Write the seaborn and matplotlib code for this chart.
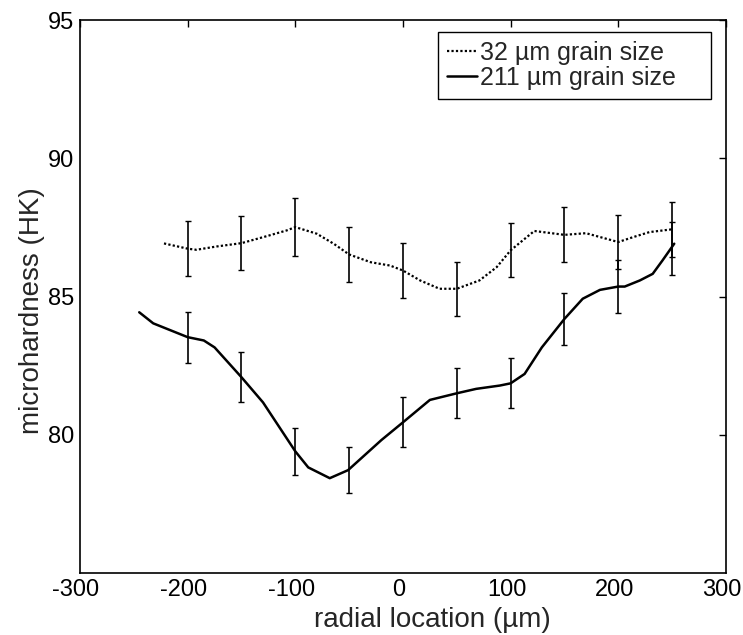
import numpy as np
import pandas as pd
import seaborn as sns
import matplotlib.pyplot as plt
from matplotlib.transforms import ScaledTranslation

# 32 um grain size (dotted trace)
x_32 = [-222, -200, -192, -173, -150, -125, -108, -100, -80, -64, -50, -30, -12, 0,
        16, 34, 50, 71, 87, 100, 122, 150, 170, 200, 214, 229, 250]
y_32 = [86.92, 86.73, 86.69, 86.81, 86.93, 87.20, 87.39, 87.51, 87.27, 86.90, 86.52, 86.24, 86.12, 85.94,
        85.58, 85.28, 85.28, 85.58, 86.06, 86.67, 87.37, 87.23, 87.29, 86.97, 87.15, 87.33, 87.43]

# 211 um grain size (solid trace)
x_211 = [-245, -232, -200, -185, -175, -150, -130, -100, -88, -68, -51, -20, 0, 25, 50,
         68, 90, 100, 113, 129, 150, 167, 183, 200, 206, 220, 232, 241, 252]
y_211 = [84.43, 84.03, 83.53, 83.41, 83.16, 82.08, 81.17, 79.40, 78.82, 78.43, 78.72, 79.81, 80.45, 81.26, 81.50,
         81.66, 81.78, 81.86, 82.20, 83.16, 84.19, 84.92, 85.24, 85.36, 85.36, 85.58, 85.82, 86.30, 86.91]

# error bars
x_err = [-200, -150, -100, -50, 0, 50, 100, 150, 200, 250]
mean_32 = [86.73, 86.93, 87.51, 86.52, 85.94, 85.28, 86.67, 87.23, 86.97, 87.42]
err_32 = [1.00, 0.97, 1.04, 1.00, 0.98, 0.97, 0.98, 0.99, 0.98, 1.00]
mean_211 = [83.53, 82.08, 79.40, 78.72, 80.45, 81.50, 81.86, 84.19, 85.36, 86.73]
err_211 = [0.92, 0.90, 0.85, 0.84, 0.90, 0.90, 0.90, 0.93, 0.95, 0.96]

sns.set_style("white")
plt.rcParams['font.family'] = ['Liberation Sans', 'DejaVu Sans']
plt.rcParams['axes.unicode_minus'] = False

fig = plt.figure(figsize=(7.43, 6.35), dpi=100)
ax = fig.add_axes([0.1077, 0.0976, 0.8693, 0.8709])

df32 = pd.DataFrame({'x': x_32, 'y': y_32})
df211 = pd.DataFrame({'x': x_211, 'y': y_211})

sns.lineplot(data=df32, x='x', y='y', sort=False, ax=ax, color='black',
             linestyle=(0, (1, 1)), linewidth=1.6, label='32 µm grain size')
sns.lineplot(data=df211, x='x', y='y', sort=False, ax=ax, color='black',
             linewidth=1.8, label='211 µm grain size')

ax.errorbar(x_err, mean_32, yerr=err_32, fmt='none', ecolor='black',
            elinewidth=1.2, capsize=2.2, capthick=1.0)
ax.errorbar(x_err, mean_211, yerr=err_211, fmt='none', ecolor='black',
            elinewidth=1.2, capsize=2.2, capthick=1.0)

ax.set_xlim(-300, 300)
ax.set_ylim(75, 95)
ax.set_xticks([-300, -200, -100, 0, 100, 200, 300])
ax.set_yticks([80, 85, 90, 95])
ax.tick_params(direction='in', length=5, width=1, top=True, right=True,
               labelsize=17, colors='black', pad=4)
# matlab-style labels sit a bit left of their ticks
shift = ScaledTranslation(-4 / 100, 0, fig.dpi_scale_trans)
for lab in ax.get_xticklabels():
    lab.set_transform(lab.get_transform() + shift)

for s in ax.spines.values():
    s.set_color('black')
    s.set_linewidth(1.2)

ax.set_xlabel('radial location (µm)', fontsize=20)
ax.set_ylabel('microhardness (HK)', fontsize=20)
ax.xaxis.set_label_coords(0.545, -0.062)
ax.yaxis.set_label_coords(-0.054, 0.474)

leg = ax.legend(loc='upper left', bbox_to_anchor=(0.554, 0, 0.4226, 0.978), mode='expand',
                borderaxespad=0, fontsize=18, frameon=True, fancybox=False,
                edgecolor='black', framealpha=1, handlelength=1.2, handletextpad=0.15,
                borderpad=0.35, labelspacing=0.05)
leg.get_frame().set_linewidth(1.0)

fig.savefig('out.png', dpi=100)
